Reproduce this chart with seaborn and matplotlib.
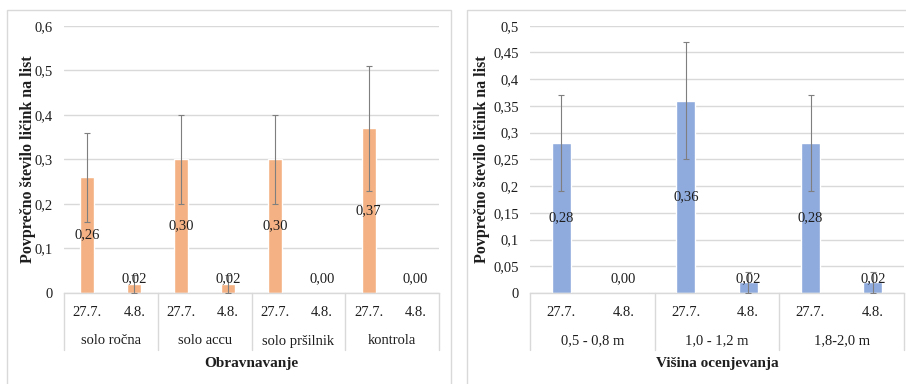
import numpy as np
import pandas as pd
import matplotlib
matplotlib.use("Agg")
import matplotlib.pyplot as plt
from matplotlib.patches import Rectangle
from matplotlib.lines import Line2D
from matplotlib.ticker import FuncFormatter, MultipleLocator
import seaborn as sns

sns.set_theme(style="white")
plt.rcParams["font.family"] = ["Liberation Serif", "DejaVu Serif"]

# Data
dates = ["27.7.", "4.8."]

left_groups = ["solo ročna", "solo accu", "solo pršilnik", "kontrola"]
left_means = [0.26, 0.02, 0.30, 0.02, 0.30, 0.00, 0.37, 0.00]
left_err = [0.10, 0.02, 0.10, 0.02, 0.10, 0.00, 0.14, 0.00]

right_groups = ["0,5 - 0,8 m", "1,0 - 1,2 m", "1,8-2,0 m"]
right_means = [0.28, 0.00, 0.36, 0.02, 0.28, 0.02]
right_err = [0.09, 0.00, 0.11, 0.02, 0.09, 0.02]

ylabel = "Povprečno število ličink na list"
left_xlabel = "Obravnavanje"
right_xlabel = "Višina ocenjevanja"

TXT = "#1e1e1e"
GRID = "#d9d9d9"
ERR = "#7f7f7f"
W, H = 906, 384


def comma(v, pos=None):
    if v == 0:
        return "0"
    return f"{v:g}".replace(".", ",")


def panel(ax, groups, means, errs, color, ymax, ystep, xlabel, ylab_x):
    slots = [f"{g}|{d}" for g in groups for d in dates]
    df = pd.DataFrame({"slot": slots, "value": means, "err": errs})
    sns.barplot(data=df, x="slot", y="value", order=slots, color=color,
                saturation=1, width=0.3, errorbar=None, ax=ax, zorder=2)
    ax.set_ylim(0, ymax)
    ax.set_xlim(-0.5, len(slots) - 0.5)
    ax.yaxis.set_major_locator(MultipleLocator(ystep))
    ax.yaxis.set_major_formatter(FuncFormatter(comma))
    ax.grid(axis="y", color=GRID, lw=1, zorder=0)
    ax.set_axisbelow(True)
    for s in ["left", "right", "top"]:
        ax.spines[s].set_visible(False)
    ax.spines["bottom"].set_color(GRID)
    ax.spines["bottom"].set_linewidth(1)
    ax.tick_params(axis="y", length=0, pad=8, labelsize=10.5, labelcolor=TXT)
    ax.tick_params(axis="x", length=0, pad=9, labelsize=10.5, labelcolor=TXT)
    ax.set_xticks(range(len(slots)))
    ax.set_xticklabels([s.split("|")[1] for s in slots])
    ax.set_xlabel("")
    ax.set_ylabel(ylabel, fontsize=11.5, fontweight="bold", color=TXT)
    ax.yaxis.label.set_va("center")
    ax.yaxis.set_label_coords(ylab_x, 0.5)

    x = np.arange(len(slots))
    m = df["err"].to_numpy() > 0
    ax.errorbar(x[m], df["value"].to_numpy()[m], yerr=df["err"].to_numpy()[m],
                fmt="none", ecolor=ERR, elinewidth=0.8, capsize=2.2,
                capthick=0.8, zorder=3)

    for xi, v in zip(x, df["value"]):
        lbl = f"{v:.2f}".replace(".", ",")
        if v > 0.05:
            ax.text(xi, v / 2, lbl, ha="center", va="center", fontsize=10.5,
                    color=TXT, zorder=4)
        else:
            ax.annotate(lbl, xy=(xi, 0), xytext=(0, 10), textcoords="offset points",
                        ha="center", va="center", fontsize=10.5, color=TXT, zorder=4)

    # group separators and group names under the date labels
    trans = ax.get_xaxis_transform()
    ax_h = ax.get_position().height * H
    sep_depth = -57 / ax_h
    for k in range(len(groups) + 1):
        xs = k * 2 - 0.5
        ax.add_line(Line2D([xs, xs], [0, sep_depth], transform=trans, color=GRID,
                           lw=1, clip_on=False))
    grp_y = -48 / ax_h
    for k, g in enumerate(groups):
        ax.text(k * 2 + 0.5, grp_y, g, transform=trans, ha="center", va="center",
                fontsize=10.5, color=TXT)
    lab_y = -70 / ax_h
    ax.text(0.5, lab_y, xlabel, transform=ax.transAxes, ha="center", va="center",
            fontsize=11, fontweight="bold", color=TXT)


fig = plt.figure(figsize=(W / 100, H / 100), dpi=100)
fig.patch.set_facecolor("white")

# panel frames
fig.add_artist(Rectangle((7 / W, -0.05), (451 - 7) / W, (384 - 10.5) / H + 0.05,
                         transform=fig.transFigure, fill=False, ec=GRID, lw=1))
fig.add_artist(Rectangle((466.5 / W, -0.05), (920 - 466.5) / W, (384 - 10.5) / H + 0.05,
                         transform=fig.transFigure, fill=False, ec=GRID, lw=1))

y0 = (H - 293) / H
hgt = (293 - 25.7) / H
axL = fig.add_axes([64 / W, y0, (439 - 64) / W, hgt])
axR = fig.add_axes([530 / W, y0, (904 - 530) / W, hgt])

panel(axL, left_groups, left_means, left_err, "#f4b183", 0.6, 0.1, left_xlabel,
      (28 - 64) / 375)
panel(axR, right_groups, right_means, right_err, "#8faadc", 0.5, 0.05, right_xlabel,
      (482 - 530) / 374)

fig.savefig("out.png", dpi=100, facecolor="white")
